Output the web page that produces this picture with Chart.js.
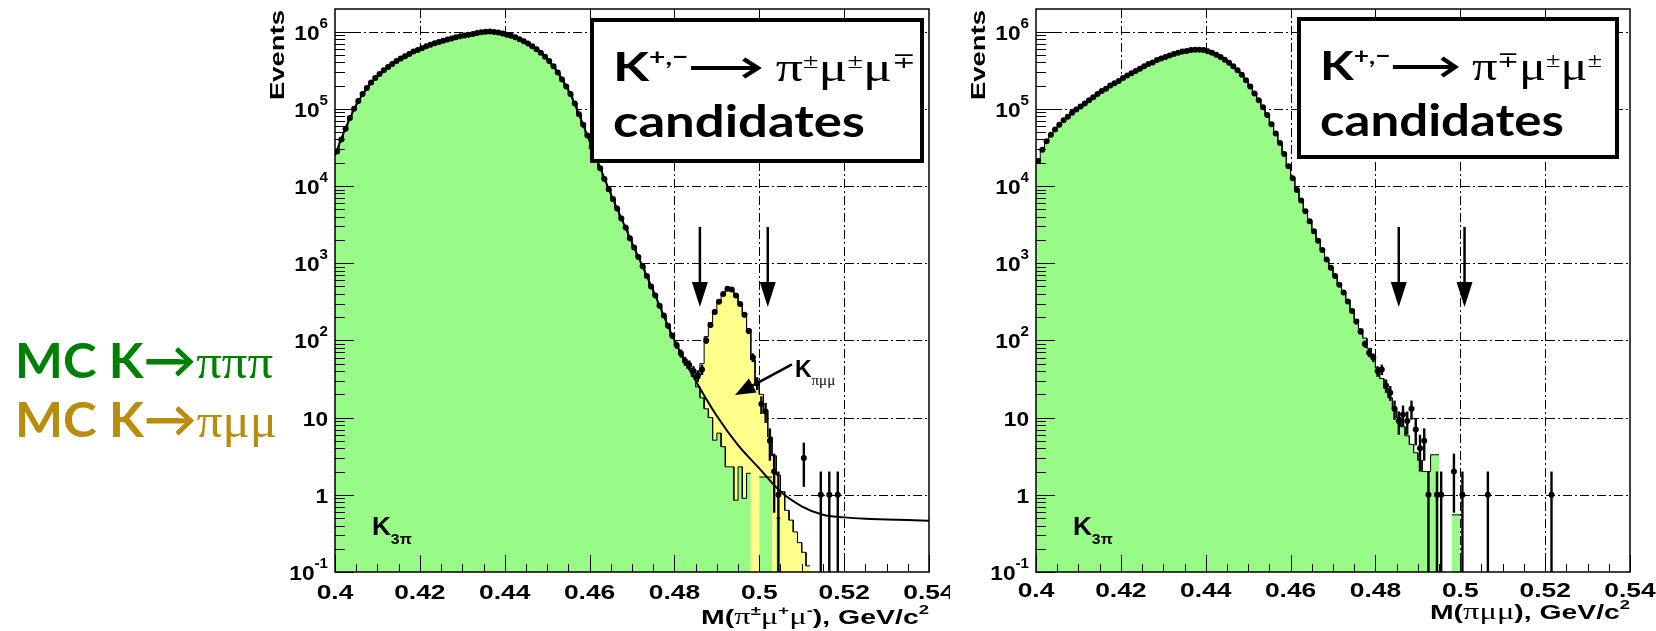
<!DOCTYPE html>
<html>
<head>
<meta charset="utf-8">
<title>K → πμμ candidates</title>
<script src="https://cdn.jsdelivr.net/npm/chart.js@4.4.1/dist/chart.umd.min.js"></script>
<style>
  html, body { margin: 0; padding: 0; background: #fff; }
  body { width: 1656px; height: 631px; position: relative; overflow: hidden; }
  canvas { position: absolute; top: 0; }
  #massLeft { left: 0; }
  #massRight { left: 950px; }
</style>
</head>
<body>
<canvas id="massLeft" width="950" height="631"></canvas>
<canvas id="massRight" width="706" height="631"></canvas>
<script>
// binning of both M(πμμ) histograms
const massMin = 0.4;
const massMax = 0.54;
const binWidth = 0.001;
const eventsMin = 0.1;
const eventsMax = 1.96e6;

const xTicks = [0.4, 0.42, 0.44, 0.46, 0.48, 0.5, 0.52, 0.54];
const xTickLabels = ["0.4", "0.42", "0.44", "0.46", "0.48", "0.5", "0.52", "0.54"];
const yTicks = [0.1, 1, 10, 100, 1e3, 1e4, 1e5, 1e6];
const yTickBase = ["10", "1", "10", "10", "10", "10", "10", "10"];
const yTickPower = ["-1", "", "", "2", "3", "4", "5", "6"];

// left panel: K+- -> pi+- mu+- mu-+ candidates
const k3piLeft = [
  2.8e4, 4.0e4, 5.5e4, 7.6e4, 1.0e5, 1.26e5, 1.55e5, 1.86e5, 2.19e5, 2.51e5,
  2.82e5, 3.16e5, 3.47e5, 3.80e5, 4.17e5, 4.47e5, 4.79e5, 5.13e5, 5.50e5, 5.75e5,
  6.10e5, 6.46e5, 6.76e5, 7.08e5, 7.35e5, 7.62e5, 7.88e5, 8.13e5, 8.41e5, 8.71e5,
  8.91e5, 9.12e5, 9.33e5, 9.55e5, 9.77e5, 9.95e5, 1.0e6, 9.9e5, 9.7e5, 9.44e5,
  9.12e5, 8.81e5, 8.41e5, 7.94e5, 7.50e5, 7.00e5, 6.46e5, 5.89e5, 5.31e5, 4.73e5,
  4.17e5, 3.55e5, 2.95e5, 2.40e5, 1.95e5, 1.55e5, 1.17e5, 8.5e4, 6.2e4, 4.5e4,
  3.2e4, 2.3e4, 1.7e4, 1.23e4, 9100, 6800, 5100, 3800, 2900, 2100,
  1600, 1200, 910, 680, 500, 380, 280, 210, 155, 115,
  87, 68, 54, 43, 34, 25, 18, 13, 10, 5.1,
  6.3, 4.2, 2.3, 2.3, 0.85, 2.3, 0.9, 1.9, 0, 0,
  1.7, 1.7, 1.7, 0, 0.5, 0, 0, 0, 0, 0,
  0, 0, 0, 0, 0, 0, 0, 0, 0, 0,
  0, 0, 0, 0, 0, 0, 0, 0, 0, 0,
  0, 0, 0, 0, 0, 0, 0, 0, 0, 0
];
// stacked MC K3pi + Kpimumu, starting at bin 83
const kpimumuFirstBin = 83;
const kpimumuLeft = [
  44, 35, 32, 50, 112, 170, 240, 316, 398, 447,
  457, 398, 288, 224, 141, 56, 26, 20, 11.5, 5.6,
  3.2, 1.8, 1.1, 0.63, 0.47, 0.33, 0.24, 0.18, 0.12, 0
];
const dataLeft = [
  28000, 40000, 55000, 76000, 100000, 126000, 155000, 186000, 219000, 251000,
  282000, 316000, 347000, 380000, 417000, 447000, 479000, 513000, 550000, 575000,
  610000, 646000, 676000, 708000, 735000, 762000, 788000, 813000, 841000, 871000,
  891000, 912000, 933000, 955000, 977000, 995000, 1000000, 990000, 970000, 944000,
  912000, 881000, 841000, 794000, 750000, 700000, 646000, 589000, 531000, 473000,
  417000, 355000, 295000, 240000, 195000, 155000, 117000, 85000, 62000, 45000,
  32000, 23000, 17000, 12300, 9100, 6800, 5100, 3800, 2900, 2100,
  1600, 1200, 910, 680, 500, 380, 280, 210, 155, 115,
  87, 68, 54, 48, 40, 35, 42, 100, 158, 234,
  316, 398, 468, 457, 380, 295, 214, 132, 60, 28,
  15, 12, 5, 2, 1, 0, 0, 0, 0, 0,
  3, 0, 0, 0, 1, 0, 1, 0, 1, 0,
  0, 0, 0, 0, 0, 0, 0, 0, 0, 0,
  0, 0, 0, 0, 0, 0, 0, 0, 0, 0
];
const fitMass = [
  0.400, 0.402, 0.405, 0.408, 0.412, 0.416, 0.420, 0.425, 0.430, 0.435,
  0.440, 0.445, 0.450, 0.455, 0.460, 0.465, 0.470, 0.475, 0.480, 0.485,
  0.490, 0.495, 0.500, 0.505, 0.510, 0.515, 0.520, 0.525, 0.530, 0.535, 0.540
];
const fitLeft = [
  2.5e4, 4.8e4, 1.12e5, 2.0e5, 3.3e5, 4.6e5, 5.9e5, 7.5e5, 8.8e5, 1.0e6,
  9.3e5, 7.3e5, 4.45e5, 1.75e5, 3.8e4, 7.9e3, 1.85e3, 440, 100, 30,
  10.5, 4.4, 2.2, 1.1, 0.71, 0.55, 0.51, 0.49, 0.48, 0.47, 0.46
];
const cutMassLeft = [0.486, 0.502];

// right panel: K+- -> pi-+ mu+- mu+- candidates
const k3piRight = [
  2.1e4, 2.95e4, 3.8e4, 4.6e4, 5.4e4, 6.2e4, 7.1e4, 7.9e4, 8.9e4, 9.8e4,
  1.07e5, 1.17e5, 1.29e5, 1.41e5, 1.55e5, 1.70e5, 1.82e5, 2.0e5, 2.14e5, 2.29e5,
  2.51e5, 2.69e5, 2.88e5, 3.09e5, 3.31e5, 3.55e5, 3.80e5, 3.98e5, 4.27e5, 4.47e5,
  4.68e5, 4.90e5, 5.13e5, 5.31e5, 5.50e5, 5.62e5, 5.75e5, 5.82e5, 5.82e5, 5.75e5,
  5.56e5, 5.31e5, 5.01e5, 4.68e5, 4.32e5, 3.94e5, 3.55e5, 3.16e5, 2.75e5, 2.34e5,
  1.95e5, 1.58e5, 1.29e5, 1.05e5, 8.3e4, 6.3e4, 4.8e4, 3.6e4, 2.6e4, 1.8e4,
  12600, 8900, 6500, 4700, 3500, 2600, 1950, 1480, 1120, 870,
  680, 525, 417, 331, 251, 186, 141, 107, 79, 59,
  44, 32, 24, 18, 13, 10, 7.6, 5.8, 4.5, 3.5,
  2.8, 2.0, 2.0, 3.3, 3.3, 0, 0, 0, 0.55, 0.55,
  0, 0, 0, 0, 0, 0, 0, 0, 0, 0,
  0, 0, 0, 0, 0, 0, 0, 0, 0, 0,
  0, 0, 0, 0, 0, 0, 0, 0, 0, 0,
  0, 0, 0, 0, 0, 0, 0, 0, 0, 0
];
const dataRight = [
  21000, 29500, 38000, 46000, 54000, 62000, 71000, 79000, 89000, 98000,
  107000, 117000, 129000, 141000, 155000, 170000, 182000, 200000, 214000, 229000,
  251000, 269000, 288000, 309000, 331000, 355000, 380000, 398000, 427000, 447000,
  468000, 490000, 513000, 531000, 550000, 562000, 575000, 582000, 582000, 575000,
  556000, 531000, 501000, 468000, 432000, 394000, 355000, 316000, 275000, 234000,
  195000, 158000, 129000, 105000, 83000, 63000, 48000, 36000, 26000, 18000,
  12600, 8900, 6500, 4700, 3500, 2600, 1950, 1480, 1120, 870,
  680, 525, 417, 320, 240, 175, 130, 90, 69, 60,
  40, 42, 26, 21, 13, 9, 11, 9, 13, 7,
  4, 5, 1, 0, 1, 1, 0, 0, 2, 0,
  1, 0, 0, 0, 0, 0, 1, 0, 0, 0,
  0, 0, 0, 0, 0, 0, 0, 0, 0, 0,
  0, 1, 0, 0, 0, 0, 0, 0, 0, 0,
  0, 0, 0, 0, 0, 0, 0, 0, 0, 0
];
const cutMassRight = [0.4855, 0.501];

// arrow ends of the signal-region cuts, in events
const cutArrowTop = 2950;
const cutArrowTip = 270;

const SANS = '"Liberation Sans", Arial, sans-serif';
const SERIF = '"Liberation Serif", "Times New Roman", serif';
const GILL = 'Lato, "Open Sans", sans-serif';
const GREEN = 'rgb(152, 251, 136)';
const YELLOW = 'rgb(255, 255, 140)';

function histogram(values, firstBin) {
  const pts = [];
  values.forEach((v, k) => {
    const lo = massMin + (firstBin + k) * binWidth;
    pts.push({ x: lo, y: v }, { x: lo + binWidth, y: v });
  });
  return pts;
}

function dataMarkers(values) {
  return values
    .map((n, i) => ({ x: massMin + (i + 0.5) * binWidth, y: n }))
    .filter(p => p.y > 0);
}

function partWidth(ctx, p) {
  if (p.arrow) return p.arrow + (p.gap || 0);
  ctx.font = p.font;
  return ctx.measureText(p.t).width + (p.gap || 0);
}

function richWidth(ctx, parts) {
  return parts.reduce((w, p) => w + partWidth(ctx, p), 0);
}

// draws a run of differently styled text pieces on one baseline
function drawRich(ctx, parts, x, y, o) {
  ctx.save();
  const natural = richWidth(ctx, parts);
  let sx = o.sx || 1;
  if (o.width) sx = o.width / natural;
  const total = natural * sx;
  let start = x;
  if (o.align === 'right') start = x - total;
  else if (o.align === 'center') start = x - total / 2;
  ctx.translate(start, y);
  ctx.scale(sx, 1);
  ctx.textAlign = 'left';
  ctx.textBaseline = 'alphabetic';
  let cx = 0;
  parts.forEach(p => {
    const col = p.color || o.color || '#000';
    if (p.arrow) {
      // long arrow with open head
      const w = p.arrow, ay = p.dy || 0;
      ctx.strokeStyle = col;
      ctx.lineWidth = 4;
      ctx.beginPath();
      ctx.moveTo(cx + 2, ay);
      ctx.lineTo(cx + w - 3, ay);
      ctx.moveTo(cx + w - 13, ay - 9);
      ctx.lineTo(cx + w - 2, ay);
      ctx.lineTo(cx + w - 13, ay + 9);
      ctx.stroke();
    } else {
      ctx.font = p.font;
      ctx.fillStyle = col;
      ctx.fillText(p.t, cx, p.dy || 0);
    }
    cx += partWidth(ctx, p);
  });
  ctx.restore();
}

function arrow(ctx, x1, y1, x2, y2, len, half) {
  const ang = Math.atan2(y2 - y1, x2 - x1);
  const c = Math.cos(ang), s = Math.sin(ang);
  ctx.beginPath();
  ctx.moveTo(x1, y1);
  ctx.lineTo(x2 - len * 0.7 * c, y2 - len * 0.7 * s);
  ctx.stroke();
  ctx.beginPath();
  ctx.moveTo(x2, y2);
  ctx.lineTo(x2 - len * c + half * s, y2 - len * s - half * c);
  ctx.lineTo(x2 - len * c - half * s, y2 - len * s + half * c);
  ctx.closePath();
  ctx.fill();
}

const decayLine = (a, b, c) => [
  { t: 'K', font: 'bold 41px ' + GILL },
  { t: '+,−', font: 'bold 22px ' + GILL, dy: -16 },
  { t: '', arrow: 56, dy: -13, gap: 12 },
  { t: 'π', font: '42px ' + SERIF },
  { t: a, font: '22px ' + SERIF, dy: -13 },
  { t: 'μ', font: '42px ' + SERIF },
  { t: b, font: '22px ' + SERIF, dy: -13 },
  { t: 'μ', font: '42px ' + SERIF },
  { t: c, font: '22px ' + SERIF, dy: -13 }
];

const panelStyle = {
  massLeft: {
    data: dataLeft,
    cuts: cutMassLeft,
    labelDrop: 27,
    titleDrop: 52,
    title: [
      { t: 'M(', font: 'bold 20px ' + SANS },
      { t: 'π', font: '23px ' + SERIF },
      { t: '±', font: 'bold 13px ' + SANS, dy: -9 },
      { t: 'μ', font: '23px ' + SERIF },
      { t: '+', font: 'bold 13px ' + SANS, dy: -9 },
      { t: 'μ', font: '23px ' + SERIF },
      { t: '-', font: 'bold 13px ' + SANS, dy: -9 },
      { t: '), GeV/c', font: 'bold 20px ' + SANS },
      { t: '2', font: 'bold 13px ' + SANS, dy: -10 }
    ],
    titleWidth: 228,
    box: { x: 590, y: 18, w: 334, h: 145, w1: 302, w2: 252 },
    boxLine: decayLine('±', '±', '∓'),
    kpimumu: { label: [0.5084, 33.6], from: [0.5077, 49], to: [0.4943, 19.6] },
    legend: [
      { y: 378, width: 258, color: 'rgb(0, 128, 0)', parts: [
        { t: 'MC K', font: 'bold 48px ' + GILL },
        { t: '→', font: 'bold 50px ' + GILL },
        { t: 'πππ', font: '48px ' + SERIF }] },
      { y: 437, width: 262, color: 'rgb(184, 140, 12)', parts: [
        { t: 'MC K', font: 'bold 48px ' + GILL },
        { t: '→', font: 'bold 50px ' + GILL },
        { t: 'πμμ', font: '48px ' + SERIF }] }
    ]
  },
  massRight: {
    data: dataRight,
    cuts: cutMassRight,
    labelDrop: 25,
    titleDrop: 47,
    title: [
      { t: 'M(', font: 'bold 20px ' + SANS },
      { t: 'πμμ', font: '23px ' + SERIF },
      { t: '), GeV/c', font: 'bold 20px ' + SANS },
      { t: '2', font: 'bold 13px ' + SANS, dy: -10 }
    ],
    titleWidth: 200,
    box: { x: 347, y: 17, w: 322, h: 142, w1: 282, w2: 244 },
    boxLine: decayLine('∓', '±', '±'),
    kpimumu: null,
    legend: []
  }
};

const rootStyle = {
  id: 'rootStyle',
  beforeDatasetsDraw(chart) {
    const { ctx, chartArea: a, scales: { x, y } } = chart;
    ctx.save();
    ctx.strokeStyle = '#000';
    ctx.lineWidth = 1;
    ctx.setLineDash([9, 3, 2, 3]);
    ctx.beginPath();
    xTicks.slice(1, -1).forEach(v => {
      const px = Math.round(x.getPixelForValue(v)) + 0.5;
      ctx.moveTo(px, a.top);
      ctx.lineTo(px, a.bottom);
    });
    yTicks.slice(1).forEach(v => {
      const py = Math.round(y.getPixelForValue(v)) + 0.5;
      ctx.moveTo(a.left, py);
      ctx.lineTo(a.right, py);
    });
    ctx.stroke();
    ctx.restore();
  },
  afterDatasetsDraw(chart) {
    const st = panelStyle[chart.canvas.id];
    const { ctx, chartArea: a, scales: { x, y } } = chart;
    ctx.save();

    // sqrt(N) error bars on data
    ctx.strokeStyle = '#000';
    ctx.fillStyle = '#000';
    ctx.lineWidth = 2.4;
    st.data.forEach((n, i) => {
      if (n <= 0) return;
      const px = x.getPixelForValue(massMin + (i + 0.5) * binWidth);
      const e = Math.sqrt(n);
      const top = y.getPixelForValue(n + e);
      const bot = n - e > 0 ? Math.min(y.getPixelForValue(n - e), a.bottom) : a.bottom;
      ctx.beginPath();
      ctx.moveTo(px, top);
      ctx.lineTo(px, bot);
      ctx.stroke();
    });

    // frame
    ctx.lineWidth = 1.5;
    ctx.strokeRect(a.left, a.top, a.right - a.left, a.bottom - a.top);

    // ticks inside the frame
    ctx.lineWidth = 1;
    ctx.beginPath();
    for (let k = 0; k <= 28; k++) {
      const px = Math.round(x.getPixelForValue(massMin + k * 0.005)) + 0.5;
      ctx.moveTo(px, a.bottom);
      ctx.lineTo(px, a.bottom - (k % 4 === 0 ? 17 : 8));
    }
    for (let d = -1; d <= 6; d++) {
      for (let m = 1; m <= 9; m++) {
        const v = m * Math.pow(10, d);
        if (v > eventsMax) break;
        const py = Math.round(y.getPixelForValue(v)) + 0.5;
        ctx.moveTo(a.left, py);
        ctx.lineTo(a.left + (m === 1 ? 19 : 10), py);
      }
    }
    ctx.stroke();

    // tick labels
    yTicks.forEach((v, i) => {
      const py = y.getPixelForValue(v);
      const parts = [{ t: yTickBase[i], font: 'bold 21px ' + SANS }];
      if (yTickPower[i]) parts.push({ t: yTickPower[i], font: 'bold 14px ' + SANS, dy: -12 });
      drawRich(ctx, parts, a.left - 7, py + 8, { align: 'right', sx: 1.08 });
    });
    xTicks.forEach((v, i) => {
      drawRich(ctx, [{ t: xTickLabels[i], font: 'bold 20px ' + SANS }],
        x.getPixelForValue(v), a.bottom + st.labelDrop, { align: 'center', sx: 1.32 });
    });
    drawRich(ctx, st.title, a.right, a.bottom + st.titleDrop, { align: 'right', width: st.titleWidth });

    ctx.save();
    ctx.translate(a.left - 51, a.top + 1);
    ctx.rotate(-Math.PI / 2);
    drawRich(ctx, [{ t: 'Events', font: 'bold 21px ' + SANS }], 0, 0, { align: 'right', width: 90 });
    ctx.restore();

    // signal region cuts
    ctx.lineWidth = 2.5;
    st.cuts.forEach(m => {
      const px = x.getPixelForValue(m);
      arrow(ctx, px, y.getPixelForValue(cutArrowTop), px, y.getPixelForValue(cutArrowTip), 25, 8);
    });

    drawRich(ctx, [{ t: 'K', font: 'bold 25px ' + SANS }, { t: '3π', font: 'bold 15px ' + SANS, dy: 9 }],
      x.getPixelForValue(0.4087), y.getPixelForValue(0.30), { sx: 1.05 });

    if (st.kpimumu) {
      const k = st.kpimumu;
      drawRich(ctx, [{ t: 'K', font: 'bold 23px ' + SANS }, { t: 'πμμ', font: '15px ' + SERIF, dy: 8 }],
        x.getPixelForValue(k.label[0]), y.getPixelForValue(k.label[1]), {});
      ctx.lineWidth = 2.5;
      arrow(ctx, x.getPixelForValue(k.from[0]), y.getPixelForValue(k.from[1]),
        x.getPixelForValue(k.to[0]), y.getPixelForValue(k.to[1]), 20, 8);
    }

    // decay-mode box
    const b = st.box;
    ctx.fillStyle = '#fff';
    ctx.fillRect(b.x, b.y, b.w, b.h);
    ctx.lineWidth = 4;
    ctx.strokeStyle = '#000';
    ctx.strokeRect(b.x + 2, b.y + 2, b.w - 4, b.h - 4);
    drawRich(ctx, st.boxLine, b.x + 23, b.y + 63, { width: b.w1 });
    drawRich(ctx, [{ t: 'candidates', font: 'bold 44px ' + GILL }], b.x + 23, b.y + 119, { width: b.w2 });

    st.legend.forEach(l => drawRich(ctx, l.parts, 15, l.y, { width: l.width, color: l.color }));
    ctx.restore();
  }
};

function makeChart(id, datasets, axisLeft, padRight) {
  return new Chart(document.getElementById(id), {
    type: 'line',
    data: { datasets },
    options: {
      responsive: false,
      animation: false,
      events: [],
      layout: { padding: { top: 9, right: padRight, left: 0, bottom: 0 } },
      elements: { line: { tension: 0 } },
      plugins: { legend: { display: false }, tooltip: { enabled: false } },
      scales: {
        x: {
          type: 'linear', min: massMin, max: massMax,
          ticks: { display: false }, grid: { display: false }, border: { display: false },
          afterFit: s => { s.height = 59; }
        },
        y: {
          type: 'logarithmic', min: eventsMin, max: eventsMax,
          ticks: { display: false }, grid: { display: false }, border: { display: false },
          afterFit: s => { s.width = axisLeft; }
        }
      }
    },
    plugins: [rootStyle]
  });
}

const dataStyle = { showLine: false, pointRadius: 3, pointStyle: 'circle', pointBackgroundColor: '#000', pointBorderWidth: 0 };
const histStyle = { borderColor: '#000', borderWidth: 1, pointRadius: 0, fill: 'start' };

makeChart('massLeft', [
  { label: 'Data', data: dataMarkers(dataLeft), order: 0, ...dataStyle },
  { label: 'Fit', data: fitMass.map((m, i) => ({ x: m, y: fitLeft[i] })), order: 1,
    borderColor: '#000', borderWidth: 2, pointRadius: 0, fill: false, cubicInterpolationMode: 'monotone' },
  { label: 'MC K→πππ', data: histogram(k3piLeft, 0), order: 2, backgroundColor: GREEN, ...histStyle },
  { label: 'MC K→πμμ', data: histogram(kpimumuLeft, kpimumuFirstBin), order: 3, backgroundColor: YELLOW, ...histStyle }
], 335, 21);

makeChart('massRight', [
  { label: 'Data', data: dataMarkers(dataRight), order: 0, ...dataStyle },
  { label: 'MC K→πππ', data: histogram(k3piRight, 0), order: 2, backgroundColor: GREEN, ...histStyle }
], 86, 26);
</script>
</body>
</html>
